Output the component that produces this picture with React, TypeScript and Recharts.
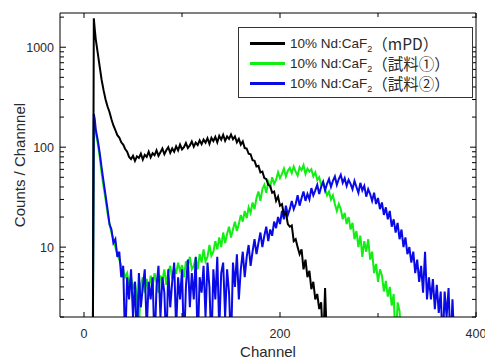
import React from 'react';
import { LineChart, Line, XAxis, YAxis } from 'recharts';

const channels = [8, 9, 10, 11,
  12, 14, 16, 18, 20, 22, 24, 26, 28, 30,
  32, 34, 36, 38, 40, 42, 44, 46, 48, 50,
  52, 54, 56, 58, 60, 62, 64, 66, 68, 70,
  72, 74, 76, 78, 80, 82, 84, 86, 88, 90,
  92, 94, 96, 98, 100, 102, 104, 106, 108, 110,
  112, 114, 116, 118, 120, 122, 124, 126, 128, 130,
  132, 134, 136, 138, 140, 142, 144, 146, 148, 150,
  152, 154, 156, 158, 160, 162, 164, 166, 168, 170,
  172, 174, 176, 178, 180, 182, 184, 186, 188, 190,
  192, 194, 196, 198, 200, 202, 204, 206, 208, 210,
  212, 214, 216, 218, 220, 222, 224, 226, 228, 230,
  232, 234, 236, 238, 240, 242, 244, 246, 248, 250,
  252, 254, 256, 258, 260, 262, 264, 266, 268, 270,
  272, 274, 276, 278, 280, 282, 284, 286, 288, 290,
  292, 294, 296, 298, 300, 302, 304, 306, 308, 310,
  312, 314, 316, 318, 320, 322, 324, 326, 328, 330,
  332, 334, 336, 338, 340, 342, 344, 346, 348, 350,
  352, 354, 356, 358, 360, 362, 364, 366, 368, 370,
  372, 374, 376, 378, 380];

const mpd = [1, 1, 1950, 1500,
  1200, 880, 640, 470, 370, 300, 255, 225, 190, 165,
  148, 132, 125, 112, 106, 96, 90, 80, 76, 82,
  73, 81, 78, 86, 75, 84, 80, 90, 79, 87,
  83, 93, 82, 89, 97, 85, 93, 100, 88, 97,
  90, 102, 93, 106, 95, 100, 110, 98, 104, 114,
  101, 111, 105, 117, 107, 119, 111, 123, 108, 124,
  115, 127, 112, 130, 119, 133, 116, 128, 121, 134,
  120, 128, 112, 121, 106, 114, 98, 97, 86, 85,
  74, 73, 64, 65, 56, 57, 49, 48, 42, 41,
  35, 36, 29, 32, 26, 27, 21, 22, 17, 16,
  16.5, 11.5, 12, 10, 8.5, 9.5, 6, 7.5, 5, 5.8,
  3.8, 4.5, 3, 3.4, 2.4, 2.8, 1, 3.9, 1, 1,
  null, null, null, null, null, null, null, null, null, null,
  null, null, null, null, null, null, null, null, null, null,
  null, null, null, null, null, null, null, null, null, null,
  null, null, null, null, null, null, null, null, null, null,
  null, null, null, null, null, null, null, null, null, null,
  null, null, null, null, null, null, null, null, null, null,
  null, null, null, null, null];

const sample1 = [1, 1, 185, 165,
  140, 110, 80, 55, 40, 30, 22, 17, 14, 12,
  10, 8.5, 7.5, 6.5, 6, 5, 5.5, 4.2, 5, 3.8,
  4.5, 3.2, 1.5, 4.2, 5, 3.5, 4.8, 3.6, 5.2, 4,
  5.5, 4.4, 3.5, 5.2, 4.6, 6, 4.2, 5.6, 6.5, 4.8,
  6.2, 5.4, 7, 5.8, 6.6, 5, 7.2, 6.4, 8, 6,
  6.5, 7.8, 6, 8.5, 7, 9.5, 7.2, 8, 10.5, 8.2,
  9, 11.5, 9.5, 12.5, 10, 14, 11, 13.5, 16, 12.5,
  15, 18, 14.5, 17, 21, 18, 23, 19.5, 25, 22,
  28, 24, 31, 36, 29, 38, 42, 35, 45, 40,
  50, 43, 47, 56, 49, 54, 61, 51, 58, 62,
  55, 64, 57, 52, 63, 59, 66, 54, 61, 57,
  60, 51, 56, 47, 50, 42, 45, 38, 33, 36,
  30, 33, 27, 23, 27, 24, 19, 22, 17, 20,
  15, 17.5, 12, 14.5, 10, 13, 8, 11.5, 9, 12,
  7.5, 9, 5.5, 6.8, 4.5, 6, 5.2, 3.6, 4.6, 3.2,
  4, 2.6, 3.4, 1, 2.8, 2.3, 1, null, null, null,
  null, null, null, null, null, null, null, null, null, null,
  null, null, null, null, null, null, null, null, null, null,
  null, null, null, null, null];

const sample2 = [1, 1, 215, 190,
  150, 118, 88, 62, 45, 33, 24, 17, 15, 11,
  12, 8, 9, 5, 6.5, 1, 5, 3, 6, 2,
  4.5, 1, 5.5, 2.5, 4, 6, 1.5, 4.5, 3, 5,
  1, 4, 6.5, 2, 5, 3.5, 1, 6, 2.5, 4.5,
  7, 1.5, 5, 3, 6, 1, 4, 7.5, 2.5, 5.5,
  3, 8, 1, 5, 3.5, 6.5, 2, 7, 4, 1,
  6, 3, 8, 1.5, 5.5, 7, 2, 6, 3.5, 1,
  7, 4, 8.5, 3, 6, 9, 5, 8, 10.5, 6.5,
  9, 12, 8.5, 11, 14, 10, 13, 16, 11.5, 15,
  13, 18, 15.5, 20, 17, 23, 19, 26, 21, 24,
  29, 24, 27, 33, 26, 31, 36, 29, 34, 30,
  39, 33, 37, 42, 34, 40, 45, 37, 43, 48,
  40, 46, 51, 42, 48, 53, 44, 49, 41, 47,
  43, 38, 46, 40, 35, 44, 37, 41, 32, 38,
  34, 29, 35, 27, 31, 24, 28, 21, 25, 19,
  23, 16, 19, 14, 17.5, 12, 15, 10, 12.5, 8.5,
  10, 7, 9, 5.5, 7.5, 4.5, 6.5, 3.5, 9, 3,
  5, 3, 4.8, 2.4, 4.2, 2.2, 3.6, 1, 3.6, 2,
  3.9, 1, 3, 1, null];

const yTicks = [2, 3, 4, 5, 6, 7, 8, 9, 10, 20, 30, 40, 50, 60, 70, 80, 90, 100,
  200, 300, 400, 500, 600, 700, 800, 900, 1000, 2000];
const yMajorTicks = [10, 100, 1000];
const xTicks = [0, 100, 200, 300, 400];
const xLabeled = [0, 200, 400];
const yDomain = [2, 2200];
const xDomain = [-24.5, 400];

const legendMain = '10% Nd:CaF';
const legendSub = '2';
const seriesSuffix = ['（mPD）', '（試料①）', '（試料②）'];
const seriesColors = ['#000000', '#11ee11', '#0a0ae6'];

const data = channels.map((c, i) => ({ ch: c, mpd: mpd[i], s1: sample1[i], s2: sample2[i] }));

const FONT = '"Liberation Sans", Arial, "Noto Sans CJK JP", sans-serif';
const TEXT_COLOR = '#2a2a2a';

const LeftTick = (props: any) => {
  const { x, y, payload } = props;
  const v = payload.value;
  const major = yMajorTicks.includes(v);
  const ax = x + 6;
  return (
    <g>
      <line x1={ax} x2={ax + (major ? 6 : 4)} y1={y} y2={y} stroke="#000" strokeWidth={1} />
      {major && (
        <text x={x} y={y} dy="0.36em" textAnchor="end" fontSize={12.5} fill={TEXT_COLOR} fontFamily={FONT}>
          {v}
        </text>
      )}
    </g>
  );
};

const RightTick = (props: any) => {
  const { x, y, payload } = props;
  const major = yMajorTicks.includes(payload.value);
  return <line x1={x} x2={x - (major ? 6 : 4)} y1={y} y2={y} stroke="#000" strokeWidth={1} />;
};

const BottomTick = (props: any) => {
  const { x, y, payload } = props;
  const v = payload.value;
  const lab = xLabeled.includes(v);
  return (
    <g>
      <line x1={x} x2={x} y1={y} y2={y - (lab ? 5 : 4)} stroke="#000" strokeWidth={1} />
      {lab && (
        <text x={x} y={y + 16} dy="0.36em" textAnchor="middle" fontSize={12.5} fill={TEXT_COLOR} fontFamily={FONT}>
          {v}
        </text>
      )}
    </g>
  );
};

const TopTick = (props: any) => {
  const { x, y, payload } = props;
  const lab = xLabeled.includes(payload.value);
  return <line x1={x} x2={x} y1={y} y2={y + (lab ? 5 : 4)} stroke="#000" strokeWidth={1} />;
};

const YLabel = (props: any) => {
  const vb = props.viewBox;
  const cx = vb.x + 20;
  const cy = vb.y + vb.height / 2;
  return (
    <text x={cx} y={cy} transform={`rotate(-90 ${cx} ${cy})`} textAnchor="middle" dy="0.36em"
      fontSize={15} fill={TEXT_COLOR} fontFamily={FONT}>
      Counts / Channnel
    </text>
  );
};

const XLabel = (props: any) => {
  const vb = props.viewBox;
  const cx = vb.x + vb.width / 2;
  const cy = vb.y + 35;
  return (
    <text x={cx} y={cy} textAnchor="middle" dy="0.36em" fontSize={15} fill={TEXT_COLOR} fontFamily={FONT}>
      Channel
    </text>
  );
};

export default function App() {
  return (
    <div style={{ position: 'absolute', left: 0, top: 0, width: 485, height: 360, background: '#fff' }}>
      <LineChart width={485} height={360} data={data} margin={{ top: 12, right: 8, bottom: 0, left: 0 }}>
        <XAxis dataKey="ch" type="number" domain={xDomain} allowDataOverflow ticks={xTicks} interval={0}
          height={43} tickSize={0} tickMargin={0} tick={<BottomTick />} tickLine={false}
          axisLine={{ stroke: '#000', strokeWidth: 1 }} label={<XLabel />} />
        <XAxis xAxisId="top" orientation="top" dataKey="ch" type="number" domain={xDomain} allowDataOverflow
          ticks={xTicks} interval={0} height={1} tickSize={0} tickMargin={0} tick={<TopTick />} tickLine={false}
          axisLine={{ stroke: '#000', strokeWidth: 1 }} />
        <YAxis type="number" scale="log" domain={yDomain} allowDataOverflow ticks={yTicks} interval={0}
          width={60} tickSize={0} tickMargin={6} tick={<LeftTick />} tickLine={false}
          axisLine={{ stroke: '#000', strokeWidth: 1 }} label={<YLabel />} />
        <YAxis yAxisId="right" orientation="right" type="number" scale="log" domain={yDomain} allowDataOverflow
          ticks={yTicks} interval={0} width={1} tickSize={0} tickMargin={0} tick={<RightTick />} tickLine={false}
          axisLine={{ stroke: '#000', strokeWidth: 1 }} />
        <Line xAxisId="top" yAxisId="right" dataKey="mpd" stroke="none" dot={false} isAnimationActive={false} />
        <Line dataKey="s1" stroke={seriesColors[1]} strokeWidth={2} dot={false} isAnimationActive={false} connectNulls={false} />
        <Line dataKey="s2" stroke={seriesColors[2]} strokeWidth={2} dot={false} isAnimationActive={false} connectNulls={false} />
        <Line dataKey="mpd" stroke={seriesColors[0]} strokeWidth={2} dot={false} isAnimationActive={false} connectNulls={false} />
      </LineChart>
      <div style={{
        position: 'absolute', left: 238, top: 27, width: 235, height: 71, border: '1px solid #333',
        boxSizing: 'border-box', background: '#fff', fontFamily: FONT, color: TEXT_COLOR,
        paddingTop: 5
      }}>
        {seriesSuffix.map((s, i) => (
          <div key={i} style={{ display: 'flex', alignItems: 'center', height: 20, whiteSpace: 'nowrap' }}>
            <div style={{ marginLeft: 11, width: 35, height: 3, background: seriesColors[i] }} />
            <span style={{ marginLeft: 5, fontSize: 13.5 }}>{legendMain}</span>
            <span style={{ fontSize: 9, position: 'relative', top: 6 }}>{legendSub}</span>
            <span style={{ fontSize: 15.5, fontFamily: '"Noto Sans CJK JP", sans-serif' }}>{s}</span>
          </div>
        ))}
      </div>
    </div>
  );
}
